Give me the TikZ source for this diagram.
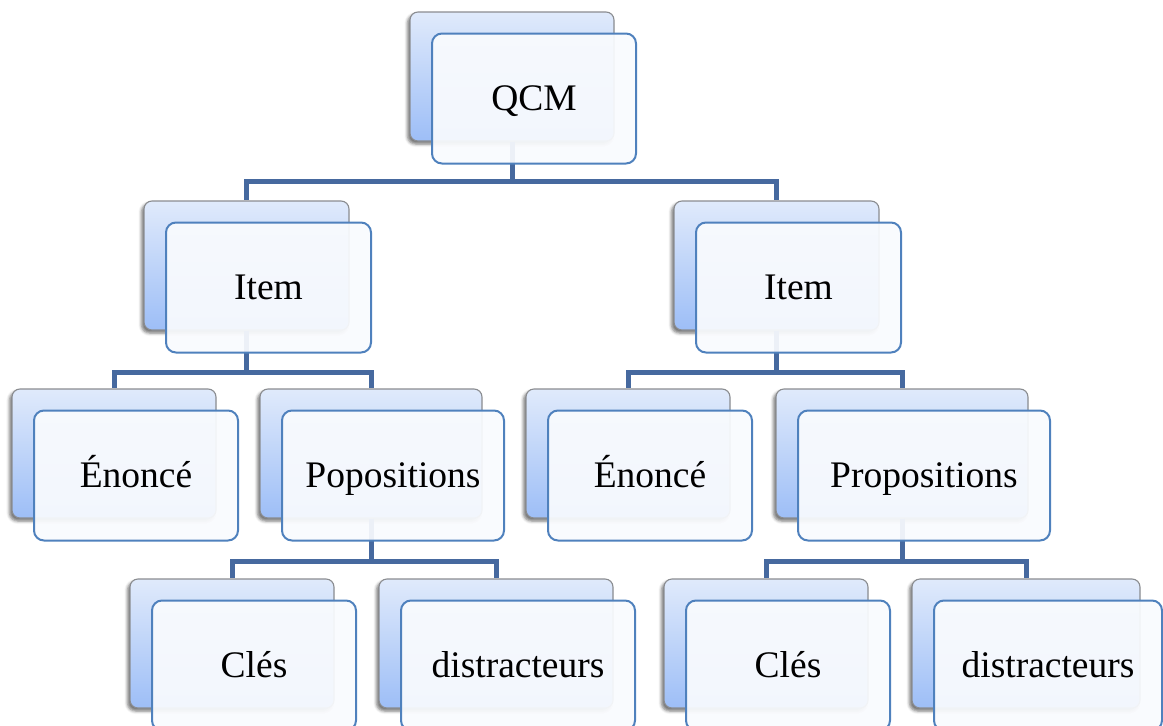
\documentclass[tikz,border=0pt]{standalone}
\usepackage{fontspec}
\setmainfont{Liberation Serif}
\usetikzlibrary{shadows.blur}
\definecolor{cardtop}{HTML}{E0EAFB}
\definecolor{cardbot}{HTML}{9DBEF7}
\definecolor{cardline}{HTML}{8A8C90}
\definecolor{frontfill}{HTML}{F9FBFE}
\definecolor{frontline}{HTML}{4F81BD}
\definecolor{connline}{HTML}{46699F}
\tikzset{
  backcard/.style={rounded corners=8pt, draw=cardline, line width=1.1pt,
    top color=cardtop, bottom color=cardbot, minimum height=129pt, inner sep=0pt,
    blur shadow={shadow xshift=-2.5pt, shadow yshift=-3pt, shadow blur radius=3pt, shadow opacity=55}},
  frontcard/.style={rounded corners=10pt, draw=frontline, line width=2pt,
    fill=frontfill, fill opacity=0.93, text opacity=1, minimum height=130pt, inner sep=0pt,
    text height=24pt, text depth=0pt, font=\fontsize{37.5}{40}\selectfont},
  conn/.style={draw=connline, line width=5pt}
}
% \card{name}{x}{y}{width}{label}: shaded card at the back
\newcommand{\card}[5]{%
  \node[backcard, minimum width=#4pt] (#1) at (#2,#3) {};
}
% lighter card with the label, shifted right and down
\newcommand{\cardfront}[5]{%
  \node[frontcard, minimum width=#4pt] (#1f) at (#2+22,#3+22) {#5};
}
\begin{document}
\begin{tikzpicture}[x=1pt, y=-1pt]
\useasboundingbox (0,0) rectangle (1163,726);
\def\cardlist{%
  qcm/512/76.5/204/QCM,
  itemA/246.5/265.5/205/Item,
  itemB/776.5/265.5/205/Item,
  enoA/114/453.5/204/Énoncé,
  propA/371/453.5/222/Popositions,
  enoB/628/453.5/204/Énoncé,
  propB/902/453.5/252/Propositions,
  cleA/232/643.5/204/Clés,
  disA/496/643.5/234/distracteurs,
  cleB/766/643.5/204/Clés,
  disB/1026/643.5/228/distracteurs}
% back cards
\foreach \n/\x/\y/\w/\t in \cardlist { \card{\n}{\x}{\y}{\w}{\t} }
% connectors between the back cards
\draw[conn] (qcm.south) -- ++(0,40) -| (itemA.north);
\draw[conn] (qcm.south) -- ++(0,40) -| (itemB.north);
\draw[conn] (itemA.south) -- ++(0,42) -| (enoA.north);
\draw[conn] (itemA.south) -- ++(0,42) -| (propA.north);
\draw[conn] (itemB.south) -- ++(0,42) -| (enoB.north);
\draw[conn] (itemB.south) -- ++(0,42) -| (propB.north);
\draw[conn] (propA.south) -- ++(0,43) -| (cleA.north);
\draw[conn] (propA.south) -- ++(0,43) -| (disA.north);
\draw[conn] (propB.south) -- ++(0,43) -| (cleB.north);
\draw[conn] (propB.south) -- ++(0,43) -| (disB.north);
% front cards with the labels
\foreach \n/\x/\y/\w/\t in \cardlist { \cardfront{\n}{\x}{\y}{\w}{\t} }
\end{tikzpicture}
\end{document}
